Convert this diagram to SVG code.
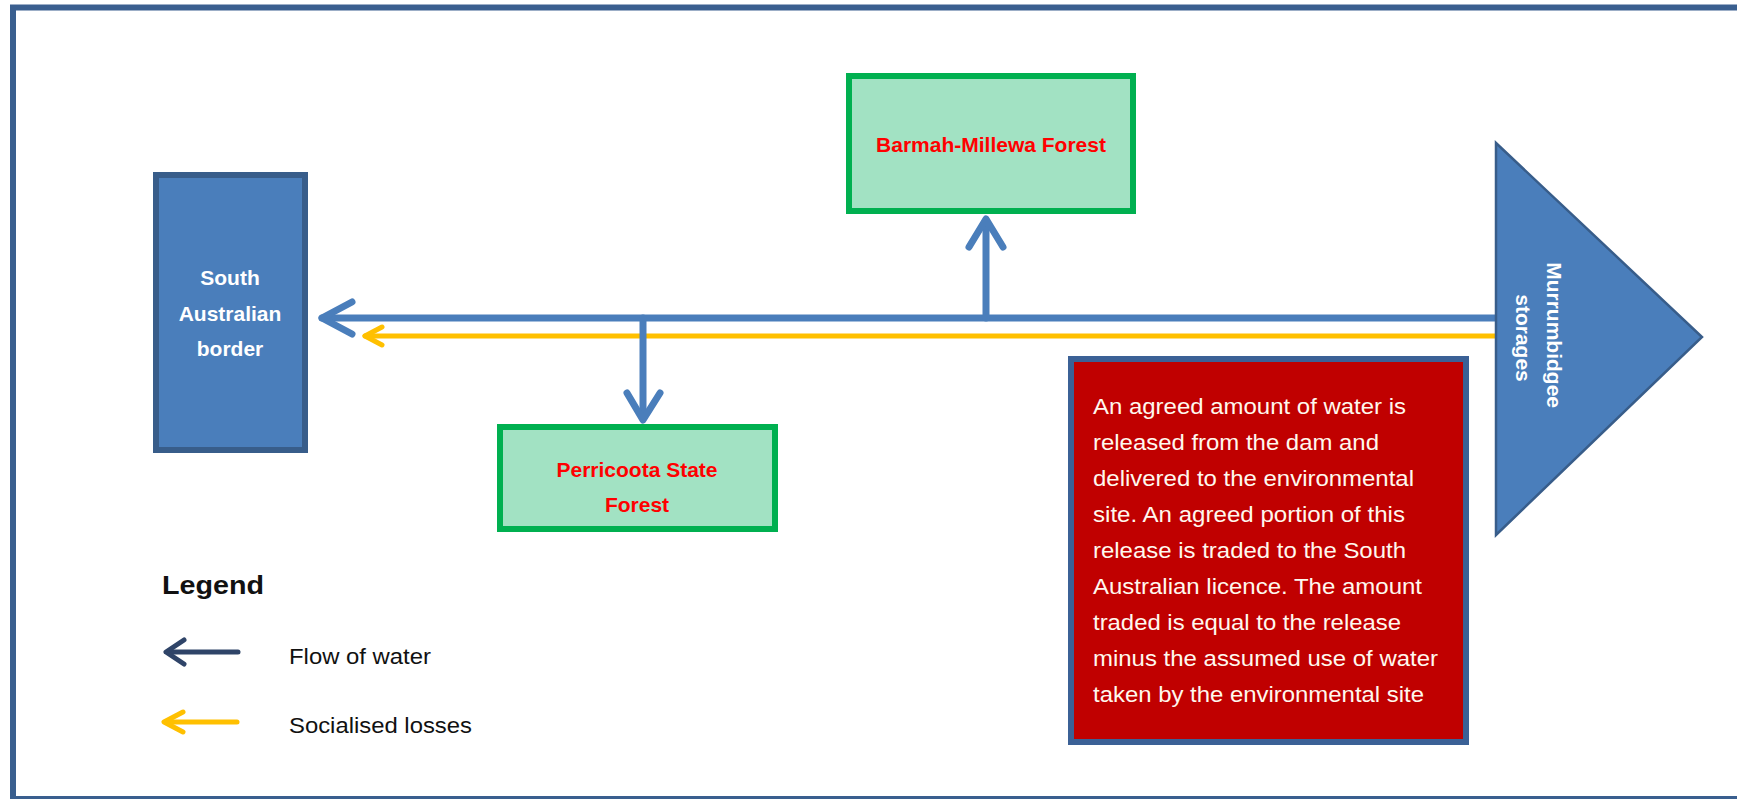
<svg xmlns="http://www.w3.org/2000/svg" width="1737" height="799" viewBox="0 0 1737 799">
<style>
.frame{fill:#FFFFFF;stroke:#3A5F8F;stroke-width:6}
.bluebox{fill:#4A7EBB;stroke:#385D8A;stroke-width:6}
.greenbox{fill:#A2E2C3;stroke:#00B050;stroke-width:6}
.redbox{fill:#C00000;stroke:#3B6196;stroke-width:6}
.flow{fill:none;stroke:#4A7EBB;stroke-width:7;stroke-linejoin:round;stroke-linecap:round}
.loss{fill:none;stroke:#FFC000;stroke-width:5;stroke-linejoin:round;stroke-linecap:round}
.lflow{fill:none;stroke:#2F4468;stroke-width:5;stroke-linejoin:round;stroke-linecap:round}
.wlab{font-family:"Liberation Sans",Arial,sans-serif;font-weight:bold;font-size:21px;fill:#FFFFFF;text-anchor:middle}
.rlab{font-family:"Liberation Sans",Arial,sans-serif;font-weight:bold;font-size:21px;fill:#FF0000;text-anchor:middle}
.note{font-family:"Liberation Sans",Arial,sans-serif;font-size:22px;fill:#FFF8EE}
.leg{font-family:"Liberation Sans",Arial,sans-serif;font-size:22px;fill:#111111}
</style>
<rect x="0" y="0" width="1737" height="799" fill="#FFFFFF"/>
<rect class="frame" x="13" y="7.5" width="1760" height="791.5"/>

<g id="connectors">
  <line class="flow" x1="322" y1="318" x2="1496" y2="318" stroke-linecap="butt"/>
  <path class="flow" d="M352,302 L322,318 L352,334"/>
  <line class="loss" x1="365" y1="336" x2="1496" y2="336" stroke-linecap="butt"/>
  <path class="loss" d="M382,327 L365,336 L382,345"/>
  <line class="flow" x1="643" y1="318" x2="643" y2="418" stroke-linecap="butt"/>
  <path class="flow" d="M627,393 L643,420 L660,393"/>
  <line class="flow" x1="986" y1="318" x2="986" y2="222" stroke-linecap="butt"/>
  <path class="flow" d="M969,247 L986,219 L1003,247"/>
</g>

<g id="south-australian-border">
  <rect class="bluebox" x="156" y="175" width="149" height="275"/>
  <text class="wlab" x="230" y="285">South</text>
  <text class="wlab" x="230" y="320.5">Australian</text>
  <text class="wlab" x="230" y="356">border</text>
</g>

<g id="barmah-millewa-forest">
  <rect class="greenbox" x="849" y="76" width="284" height="135"/>
  <text class="rlab" x="991" y="152">Barmah-Millewa Forest</text>
</g>

<g id="perricoota-state-forest">
  <rect class="greenbox" x="500" y="427" width="275" height="102"/>
  <text class="rlab" x="637" y="477">Perricoota State</text>
  <text class="rlab" x="637" y="512">Forest</text>
</g>

<g id="murrumbidgee-storages">
  <polygon points="1496,143 1702,337 1496,535" fill="#4A7EBB" stroke="#385D8A" stroke-width="2.5" stroke-linejoin="miter"/>
  <text class="wlab" transform="translate(1547,338) rotate(90)">
    <tspan x="0" y="0">Murrumbidgee</tspan>
    <tspan x="0" y="31">storages</tspan>
  </text>
</g>

<g id="note">
  <rect class="redbox" x="1071" y="359" width="395" height="383"/>
  <text class="note" lengthAdjust="spacingAndGlyphs" x="1093" y="414" textLength="313">An agreed amount of water is</text>
  <text class="note" lengthAdjust="spacingAndGlyphs" x="1093" y="450" textLength="286">released from the dam and</text>
  <text class="note" lengthAdjust="spacingAndGlyphs" x="1093" y="486" textLength="321">delivered to the environmental</text>
  <text class="note" lengthAdjust="spacingAndGlyphs" x="1093" y="522" textLength="312">site. An agreed portion of this</text>
  <text class="note" lengthAdjust="spacingAndGlyphs" x="1093" y="558" textLength="313">release is traded to the South</text>
  <text class="note" lengthAdjust="spacingAndGlyphs" x="1093" y="594" textLength="329">Australian licence. The amount</text>
  <text class="note" lengthAdjust="spacingAndGlyphs" x="1093" y="630" textLength="308">traded is equal to the release</text>
  <text class="note" lengthAdjust="spacingAndGlyphs" x="1093" y="666" textLength="345">minus the assumed use of water</text>
  <text class="note" lengthAdjust="spacingAndGlyphs" x="1093" y="702" textLength="331">taken by the environmental site</text>
</g>

<g id="legend">
  <text x="162" y="594" font-family="'Liberation Sans',Arial,sans-serif" font-weight="bold" font-size="25" fill="#111111" textLength="102" lengthAdjust="spacingAndGlyphs">Legend</text>
  <line class="lflow" x1="238" y1="652" x2="168" y2="652"/>
  <path class="lflow" d="M184,640 L166,652 L184,664"/>
  <text class="leg" x="289" y="664" textLength="142" lengthAdjust="spacingAndGlyphs">Flow of water</text>
  <line class="loss" x1="237" y1="722" x2="166" y2="722"/>
  <path class="loss" d="M183,712 L164,722 L183,732"/>
  <text class="leg" x="289" y="733" textLength="183" lengthAdjust="spacingAndGlyphs">Socialised losses</text>
</g>
</svg>
